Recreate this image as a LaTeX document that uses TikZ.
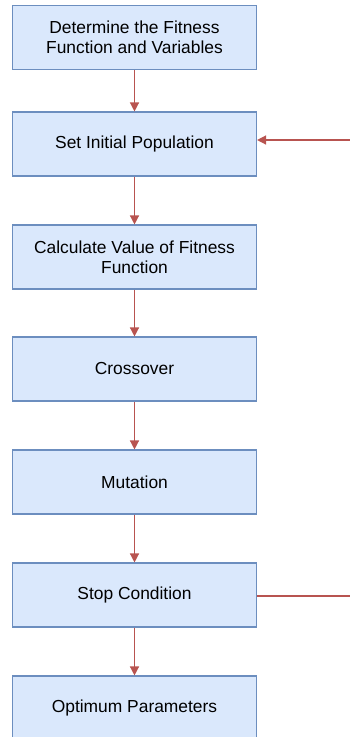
\documentclass[tikz,border=0pt]{standalone}
\usepackage{fontspec}
\setmainfont{Liberation Sans}
\usetikzlibrary{arrows.meta}
\definecolor{boxfill}{HTML}{DAE8FC}
\definecolor{boxline}{HTML}{6C8EBF}
\definecolor{arrowred}{HTML}{B85450}
\begin{document}
\begin{tikzpicture}[x=1pt,y=-1pt,
  stepbox/.style={draw=boxline,fill=boxfill,line width=1.1pt,minimum width=244pt,minimum height=64pt,
    inner sep=0pt,align=center,font=\fontsize{17.4}{20}\selectfont,text=black},
  conn/.style={draw=arrowred,line width=1.3pt,-{Triangle[length=9pt,width=9pt]}},
  plainconn/.style={draw=arrowred,line width=1.3pt}]
\useasboundingbox (0,0) rectangle (350,737);
\clip (0,0) rectangle (350,737);
\node[stepbox] (s1) at (134.5,37.5) {Determine the Fitness\\Function and Variables};
\node[stepbox] (s2) at (134.5,144) {Set Initial Population};
\node[stepbox] (s3) at (134.5,257) {Calculate Value of Fitness\\Function};
\node[stepbox] (s4) at (134.5,369) {Crossover};
\node[stepbox] (s5) at (134.5,482) {Mutation};
\node[stepbox] (s6) at (134.5,595) {Stop Condition};
\node[stepbox] (s7) at (134.5,708) {Optimum Parameters};
\coordinate (fb) at (350,140);
\coordinate (sc) at (350,596);
\draw[conn] (s1) -- (s2);
\draw[conn] (s2) -- (s3);
\draw[conn] (s3) -- (s4);
\draw[conn] (s4) -- (s5);
\draw[conn] (s5) -- (s6);
\draw[conn] (s6) -- (s7);
\draw[conn] (fb) -- (fb -| s2.east);
\draw[plainconn] (s6.east |- sc) -- (sc);
\end{tikzpicture}
\end{document}
